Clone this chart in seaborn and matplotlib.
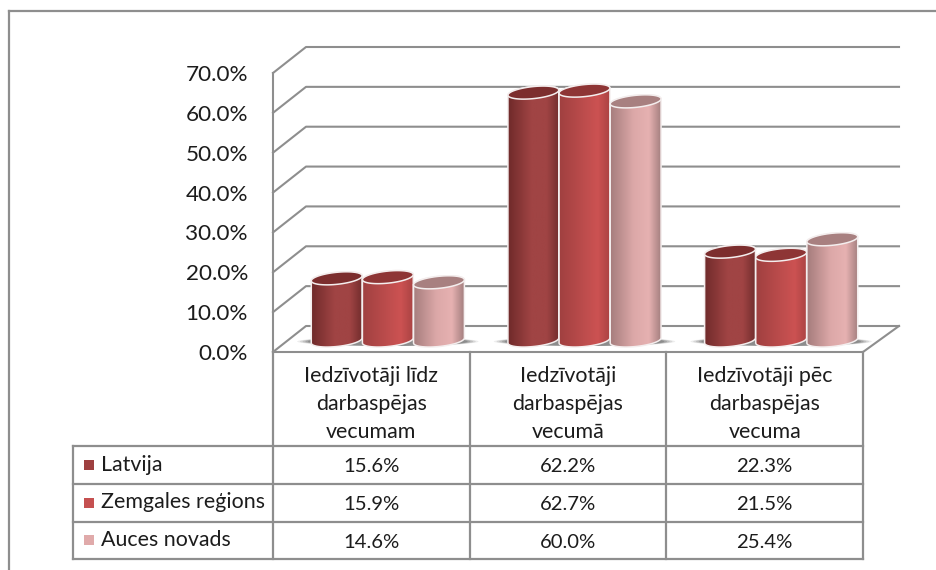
import numpy as np
import pandas as pd
import seaborn as sns
import matplotlib
matplotlib.use("Agg")
import matplotlib.pyplot as plt
from matplotlib.path import Path
from matplotlib.patches import PathPatch, Ellipse, Rectangle
from matplotlib.colors import LinearSegmentedColormap

categories = ["Iedzīvotāji līdz\ndarbaspējas\nvecumam", "Iedzīvotāji\ndarbaspējas\nvecumā", "Iedzīvotāji pēc\ndarbaspējas\nvecuma"]
series_names = ["Latvija", "Zemgales reģions", "Auces novads"]
latvija = [15.6, 62.2, 22.3]
zemgale = [15.9, 62.7, 21.5]
auces = [14.6, 60.0, 25.4]
y_ticks = [0, 10, 20, 30, 40, 50, 60, 70]

key_colors = ["#9e4040", "#c55050", "#e0aaaa"]
cap_colors = ["#7c2e2e", "#8e3535", "#a88080"]
grads = [["#6f2a2a", "#a04444", "#a04444", "#702c2c"],
         ["#a04040", "#bb4c4c", "#cc5252", "#a84242"],
         ["#a57c7c", "#dca8a8", "#e6b1b1", "#a07c7c"]]
LINE = "#8e8e8e"
TEXT = "#1c1c1c"
FONT = "Lato"

W, H = 936, 570
plt.rcParams["font.family"] = [FONT, "DejaVu Sans"]
fig = plt.figure(figsize=(W / 100, H / 100), dpi=100, facecolor="white")

def box(l, t, r, b):
    return [l / W, 1 - b / H, (r - l) / W, (b - t) / H]

bg = fig.add_axes([0, 0, 1, 1], zorder=0)
bg.set_xlim(0, W); bg.set_ylim(H, 0); bg.axis("off")
def ln(xs, ys, lw=1.5, c=LINE):
    bg.plot(xs, ys, color=c, lw=lw, solid_capstyle="projecting", clip_on=False)

X0, X1, Y0, Y70 = 273.0, 863.0, 352.0, 73.0
DX, DY = 33.0, -26.0
ppv = (Y0 - Y70) / 70.0

ln([8.5, 8.5], [11, 570], 1.6)
ln([8.5, 936], [11, 11], 1.6)

for v in y_ticks:
    y = Y0 - v * ppv
    ln([X0, X0 + DX, X1 + DX + 3], [y, y + DY, y + DY], 1.5)
ln([X0, X0], [Y70, Y0])
ln([X0, X1, X1 + DX + 3], [Y0, Y0, Y0 + DY])

TX = [73.0, X0, X0 + (X1 - X0) / 3, X0 + 2 * (X1 - X0) / 3, X1]
TY = [446.0, 483.5, 521.5, 558.5]
for y in TY:
    ln([TX[0], TX[-1]], [y, y], 1.6)
ln([TX[0], TX[0]], [TY[0], TY[-1]], 1.6)
for x in TX[1:]:
    ln([x, x], [Y0, TY[-1]], 1.6)
for i, cat in enumerate(categories):
    bg.text((TX[i + 1] + TX[i + 2]) / 2, 404, cat, ha="center", va="center",
            fontsize=15.4, color=TEXT, linespacing=1.5)
rows = [latvija, zemgale, auces]
for r, name in enumerate(series_names):
    yc = (TY[r] + TY[r + 1]) / 2
    bg.add_patch(Rectangle((84, yc - 5), 10, 10, color=key_colors[r], lw=0))
    bg.text(101, yc, name, ha="left", va="center", fontsize=15.4, color=TEXT)
    for i, v in enumerate(rows[r]):
        bg.text((TX[i + 1] + TX[i + 2]) / 2, yc + 2, f"{v:.1f}%", ha="center", va="center",
                fontsize=14.6, color=TEXT)

axf = fig.add_axes(box(X0, Y70, X1, Y0), zorder=0.5, facecolor="none")
axf.set_ylim(0, 70); axf.set_xticks([])
axf.set_yticks(y_ticks)
axf.set_yticklabels([f"{v:.1f}%" for v in y_ticks], fontsize=16.2, color=TEXT)
axf.tick_params(axis="y", length=0, pad=18)
for s in axf.spines.values():
    s.set_visible(False)

df = pd.DataFrame({"cat": categories * 3,
                   "series": np.repeat(series_names, 3),
                   "value": latvija + zemgale + auces})
BASE_SHIFT = 1.5
ax = fig.add_axes(box(X0 + DX / 2, Y70 + DY / 2 + BASE_SHIFT, X1 + DX / 2, Y0 + DY / 2 + BASE_SHIFT),
                  zorder=1, facecolor="none")
sns.barplot(data=df, x="cat", y="value", hue="series", hue_order=series_names, order=categories,
            palette=key_colors, width=0.78, gap=0, legend=False, ax=ax, errorbar=None, saturation=1)
ax.set_xlim(-0.5, 2.5); ax.set_ylim(0, 70)
ax.axis("off")

sx = (X1 - X0) / 3
sy = ppv
tilt = np.deg2rad(6)
MINOR = 6.0

def ell(cx, cy, a, b, t):
    px = a * np.cos(t) * np.cos(tilt) - b * np.sin(t) * np.sin(tilt)
    py = a * np.cos(t) * np.sin(tilt) + b * np.sin(t) * np.cos(tilt)
    return cx + px / sx, cy + py / sy

bars = sorted(ax.patches, key=lambda p: p.get_x())
n_ser = len(series_names)
for p in bars:
    p.set_visible(False)
for k, p in enumerate(bars):
    s = k % n_ser
    x0, w, h = p.get_x(), p.get_width(), p.get_height()
    cx = x0 + w / 2
    a = w * sx / 2
    if s == 0:
        gx = cx + w
        for f, al in zip([1.0, .97, .94, .91, .88], [.10, .14, .18, .24, .3]):
            ax.add_patch(Ellipse((gx, -1 / sy), 2 * f * (w * 1.5 + 14 / sx), 2 * 4.5 / sy,
                                 fc="#555555", ec="none", alpha=al, clip_on=False, zorder=1))
    lx, ly = ell(cx, 0, a, MINOR, np.linspace(np.pi, 2 * np.pi, 30))
    tx, ty = ell(cx, h, a, MINOR, np.linspace(0, np.pi, 30))
    verts = np.vstack([np.column_stack([lx, ly]), np.column_stack([tx, ty])])
    verts = np.vstack([verts, verts[0]])
    body = Path(verts, closed=True)
    cmap = LinearSegmentedColormap.from_list("g", list(zip([0, .45, .75, 1], grads[s])))
    im = ax.imshow(np.linspace(0, 1, 128)[None, :], cmap=cmap, aspect="auto",
                   extent=[x0, x0 + w, -MINOR * 2 / sy, h + MINOR * 2 / sy], zorder=3 + k * .01)
    im.set_clip_box(fig.bbox)
    im.set_clip_path(body, ax.transData)
    ax.add_patch(PathPatch(body, fc="none", ec="#f4eeee", lw=1.1, zorder=3.001 + k * .01, clip_on=False))
    tx2, ty2 = ell(cx, h, a, MINOR, np.linspace(0, 2 * np.pi, 70))
    ax.add_patch(PathPatch(Path(np.column_stack([tx2, ty2]), closed=True), fc=cap_colors[s], ec="#f4eeee",
                           lw=1.1, zorder=3.002 + k * .01, clip_on=False))
ax.set_xlim(-0.5, 2.5); ax.set_ylim(0, 70)
fig.savefig("out.png", dpi=100, facecolor="white")
